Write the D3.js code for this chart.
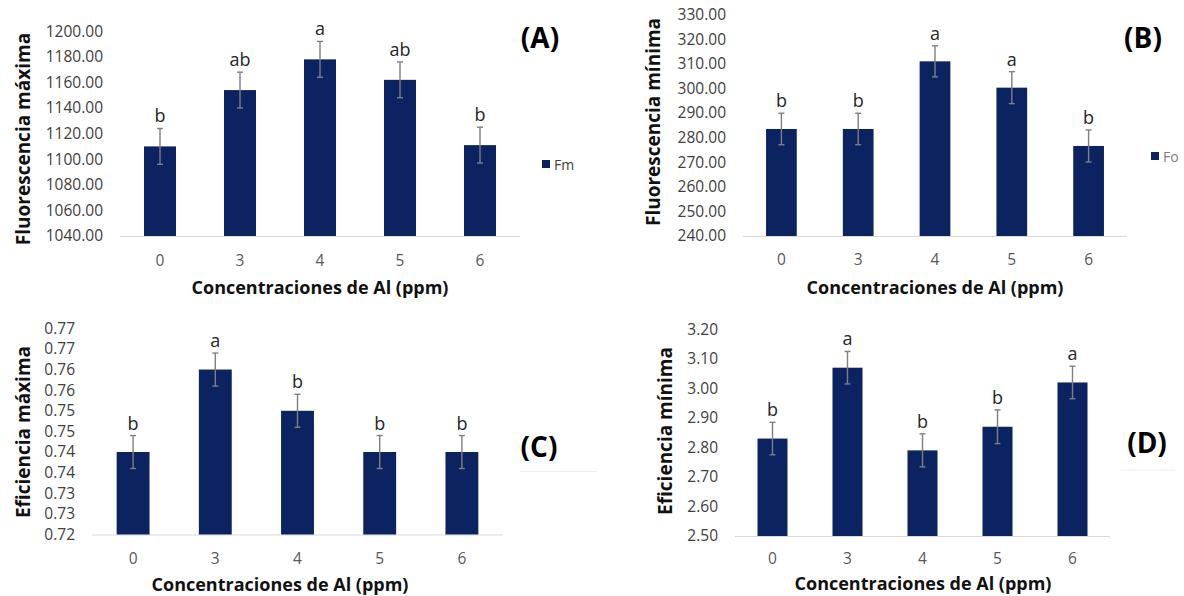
<!DOCTYPE html>
<html>
<head>
<meta charset="utf-8">
<script src="https://cdn.jsdelivr.net/npm/d3@7"></script>
<style>
  html, body { margin: 0; padding: 0; background: #fff; }
  svg { display: block; font-family: "Open Sans", sans-serif; }
</style>
</head>
<body>
<svg id="chart" width="1184" height="596"></svg>
<script>
// ---------- data ----------
const categories = ["0", "3", "4", "5", "6"];

const fmValues  = [1110, 1154, 1178, 1162, 1111];
const fmErrors  = [14, 14, 14, 14, 14];
const fmLetters = ["b", "ab", "a", "ab", "b"];
const fmTicks   = [1040, 1060, 1080, 1100, 1120, 1140, 1160, 1180, 1200];
const fmTickLabels = ["1040.00", "1060.00", "1080.00", "1100.00", "1120.00", "1140.00", "1160.00", "1180.00", "1200.00"];

const foValues  = [283.5, 283.5, 311.0, 300.3, 276.6];
const foErrors  = [6.4, 6.4, 6.3, 6.5, 6.5];
const foLetters = ["b", "b", "a", "a", "b"];
const foTicks   = [240, 250, 260, 270, 280, 290, 300, 310, 320, 330];
const foTickLabels = ["240.00", "250.00", "260.00", "270.00", "280.00", "290.00", "300.00", "310.00", "320.00", "330.00"];

const effMaxValues  = [0.740, 0.760, 0.750, 0.740, 0.740];
const effMaxErrors  = [0.004, 0.004, 0.004, 0.004, 0.004];
const effMaxLetters = ["b", "a", "b", "b", "b"];
const effMaxTicks   = [0.720, 0.725, 0.730, 0.735, 0.740, 0.745, 0.750, 0.755, 0.760, 0.765, 0.770];
const effMaxTickLabels = ["0.72", "0.73", "0.73", "0.74", "0.74", "0.75", "0.75", "0.76", "0.76", "0.77", "0.77"];

const effMinValues  = [2.83, 3.07, 2.79, 2.87, 3.02];
const effMinErrors  = [0.055, 0.055, 0.056, 0.057, 0.055];
const effMinLetters = ["b", "a", "b", "b", "a"];
const effMinTicks   = [2.5, 2.6, 2.7, 2.8, 2.9, 3.0, 3.1, 3.2];
const effMinTickLabels = ["2.50", "2.60", "2.70", "2.80", "2.90", "3.00", "3.10", "3.20"];

const xTitle = "Concentraciones de Al (ppm)";

// ---------- styling ----------
const BAR_COLOR = "#0b2361";
const ERR_COLOR = "#7f7f7f";
const svg = d3.select("#chart");

function panel(cfg) {
  const g = svg.append("g");
  const x = d3.scaleBand().domain(categories).range([cfg.x0, cfg.x1])
    .paddingInner(0.6).paddingOuter(0.3);
  const y = d3.scaleLinear().domain([cfg.ticks[0], cfg.ticks[cfg.ticks.length - 1]])
    .range([cfg.yBase, cfg.yTop]);

  // y axis (labels only)
  const yAxis = d3.axisLeft(y).tickValues(cfg.ticks)
    .tickFormat((d, i) => cfg.tickLabels[i]).tickSize(0).tickPadding(0);
  const ya = g.append("g").attr("transform", `translate(${cfg.x0 - 17},0)`).call(yAxis);
  ya.select(".domain").remove();
  ya.selectAll("text").attr("font-size", 15.5).attr("fill", "#404040")
    .attr("font-family", "Open Sans, sans-serif");

  // x axis
  const xAxis = d3.axisBottom(x).tickSize(0).tickPadding(0);
  const xa = g.append("g").attr("transform", `translate(0,${cfg.yBase})`).call(xAxis);
  xa.select(".domain").attr("stroke", "#d9d9d9").attr("stroke-width", 1.2)
    .attr("d", `M${cfg.x0},0.5H${cfg.x1}`);
  xa.selectAll("text").attr("font-size", 15.5).attr("fill", "#595959")
    .attr("dy", null).attr("y", cfg.xTickY - cfg.yBase).attr("dominant-baseline", "central")
    .attr("font-family", "Open Sans, sans-serif");

  // bars
  g.selectAll("rect.bar").data(cfg.values).join("rect")
    .attr("class", "bar")
    .attr("x", (d, i) => x(categories[i]))
    .attr("width", x.bandwidth())
    .attr("y", d => y(d))
    .attr("height", d => cfg.yBase - y(d))
    .attr("fill", BAR_COLOR);

  // error bars
  const eg = g.append("g").attr("stroke", ERR_COLOR).attr("stroke-width", 1.4).attr("fill", "none");
  cfg.values.forEach((v, i) => {
    const cx = x(categories[i]) + x.bandwidth() / 2;
    const yt = y(v + cfg.errors[i]), yb = y(v - cfg.errors[i]);
    eg.append("line").attr("x1", cx).attr("x2", cx).attr("y1", yt).attr("y2", yb);
    eg.append("line").attr("x1", cx - 3).attr("x2", cx + 3).attr("y1", yt).attr("y2", yt);
    eg.append("line").attr("x1", cx - 3).attr("x2", cx + 3).attr("y1", yb).attr("y2", yb);
  });

  // significance letters
  g.selectAll("text.sig").data(cfg.letters).join("text")
    .attr("class", "sig")
    .attr("x", (d, i) => x(categories[i]) + x.bandwidth() / 2)
    .attr("y", (d, i) => y(cfg.values[i] + cfg.errors[i]) - 6)
    .attr("text-anchor", "middle")
    .attr("font-size", 18)
    .attr("fill", "#262626")
    .text(d => d);

  // y title
  g.append("text")
    .attr("transform", `translate(${cfg.yTitleX},${cfg.yTitleY}) rotate(-90)`)
    .attr("text-anchor", "middle").attr("dominant-baseline", "central")
    .attr("font-size", 19).attr("font-weight", "bold").attr("fill", "#111")
    .text(cfg.yTitle);

  // x title
  g.append("text")
    .attr("x", cfg.xTitleX).attr("y", cfg.xTitleY)
    .attr("text-anchor", "middle").attr("dominant-baseline", "central")
    .attr("font-size", 18).attr("font-weight", "bold").attr("fill", "#111")
    .text(xTitle);

  // panel tag
  g.append("text")
    .attr("x", cfg.tagX).attr("y", cfg.tagY)
    .attr("text-anchor", "middle").attr("dominant-baseline", "central")
    .attr("font-size", 28).attr("font-weight", "bold").attr("fill", "#000")
    .text(cfg.tag);

  if (cfg.tagLine) {
    g.append("line").attr("x1", cfg.tagLine[0]).attr("x2", cfg.tagLine[1])
      .attr("y1", cfg.tagLine[2]).attr("y2", cfg.tagLine[2])
      .attr("stroke", "#eeeeee").attr("stroke-width", 1);
  }

  // legend
  if (cfg.legend) {
    g.append("rect").attr("x", cfg.legendX).attr("y", cfg.legendY - 4)
      .attr("width", 8).attr("height", 8).attr("fill", BAR_COLOR);
    g.append("text").attr("x", cfg.legendX + 12).attr("y", cfg.legendY)
      .attr("dominant-baseline", "central").attr("font-size", 14)
      .attr("fill", cfg.legendColor).text(cfg.legend);
  }
}

panel({
  values: fmValues, errors: fmErrors, letters: fmLetters,
  ticks: fmTicks, tickLabels: fmTickLabels,
  x0: 120, x1: 520, yBase: 236, yTop: 31.2, xTickY: 260,
  yTitle: "Fluorescencia máxima", yTitleX: 23, yTitleY: 139,
  xTitleX: 320, xTitleY: 287,
  tag: "(A)", tagX: 540, tagY: 37,
  legend: "Fm", legendX: 542, legendY: 164, legendColor: "#404040"
});

panel({
  values: foValues, errors: foErrors, letters: foLetters,
  ticks: foTicks, tickLabels: foTickLabels,
  x0: 743, x1: 1127, yBase: 236, yTop: 14.6, xTickY: 258.5,
  yTitle: "Fluorescencia mínima", yTitleX: 653, yTitleY: 122,
  xTitleX: 935, xTitleY: 287,
  tag: "(B)", tagX: 1143, tagY: 37,
  legend: "Fo", legendX: 1151, legendY: 156, legendColor: "#7f7f7f"
});

panel({
  values: effMaxValues, errors: effMaxErrors, letters: effMaxLetters,
  ticks: effMaxTicks, tickLabels: effMaxTickLabels,
  x0: 92, x1: 503, yBase: 534.5, yTop: 328.3, xTickY: 558,
  yTitle: "Eficiencia máxima", yTitleX: 23, yTitleY: 432,
  xTitleX: 280, xTitleY: 584,
  tag: "(C)", tagX: 539, tagY: 446, tagLine: [520, 597, 471.5]
});

panel({
  values: effMinValues, errors: effMinErrors, letters: effMinLetters,
  ticks: effMinTicks, tickLabels: effMinTickLabels,
  x0: 735, x1: 1110, yBase: 536, yTop: 329.3, xTickY: 558,
  yTitle: "Eficiencia mínima", yTitleX: 665, yTitleY: 431,
  xTitleX: 923, xTitleY: 583,
  tag: "(D)", tagX: 1147, tagY: 442, tagLine: [1120, 1175, 470]
});
</script>
</body>
</html>
